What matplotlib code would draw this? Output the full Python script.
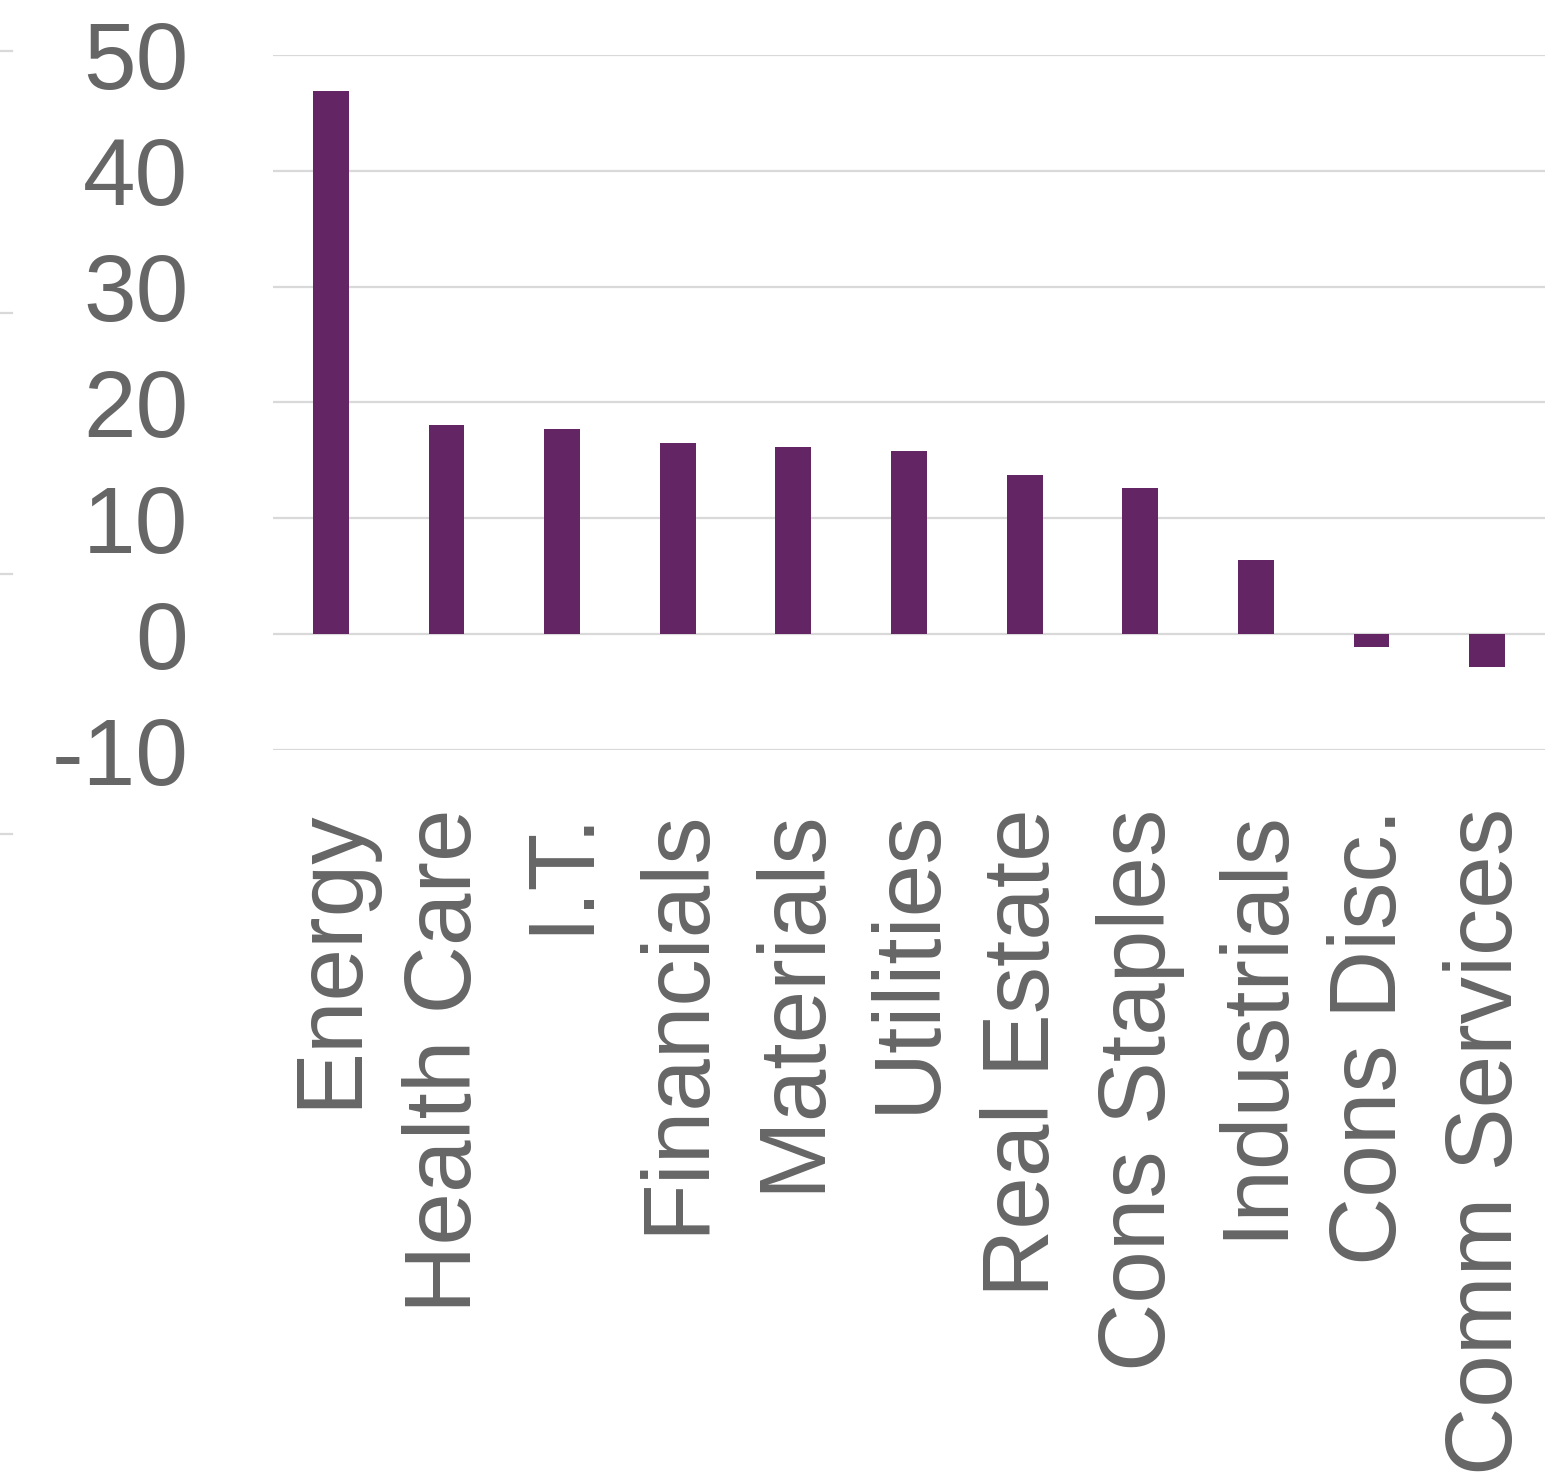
import matplotlib.pyplot as plt
from matplotlib.lines import Line2D

# ── Data ──────────────────────────────────────────────────────────────────────
sectors = ["Energy", "Health Care", "I.T.", "Financials", "Materials", "Utilities",
           "Real Estate", "Cons Staples", "Industrials", "Cons Disc.", "Comm Services"]
values = [46.9, 18.1, 17.7, 16.5, 16.2, 15.8, 13.7, 12.6, 6.4, -1.1, -2.8]
y_ticks = [-10, 0, 10, 20, 30, 40, 50]

BAR_COLOR = "#642565"
GRID_COLOR = "#d9d9d9"
TEXT_COLOR = "#666666"

plt.rcParams["font.family"] = ["Liberation Sans", "DejaVu Sans"]

fig = plt.figure(figsize=(15.61, 14.83), dpi=100)
ax = fig.add_axes([273 / 1561, 1 - 750 / 1483, (1545 - 273) / 1561, (750 - 55) / 1483])

x = list(range(len(sectors)))
ax.bar(x, values, width=0.31, color=BAR_COLOR, zorder=3)

ax.set_xlim(-0.5, len(sectors) - 0.5)
ax.set_ylim(-10, 50)
ax.set_yticks(y_ticks)
ax.set_yticklabels([str(v) for v in y_ticks])
ax.set_xticks(x)
ax.set_xticklabels(sectors, rotation=90, ha="center", va="top")

ax.grid(axis="y", color=GRID_COLOR, linewidth=1.6, zorder=0)
ax.tick_params(axis="y", length=0, pad=61, labelsize=68, labelcolor=TEXT_COLOR)
ax.tick_params(axis="x", length=0, pad=42, labelsize=68, labelcolor=TEXT_COLOR)
for s in ax.spines.values():
    s.set_visible(False)

# faint gridline stubs from a neighbouring chart at the left edge
for ypx in [51, 313, 574, 834]:
    yf = 1 - ypx / 1483
    fig.add_artist(Line2D([0, 12 / 1561], [yf, yf], color=GRID_COLOR, linewidth=1.6))

fig.savefig("out.png", dpi=100)
